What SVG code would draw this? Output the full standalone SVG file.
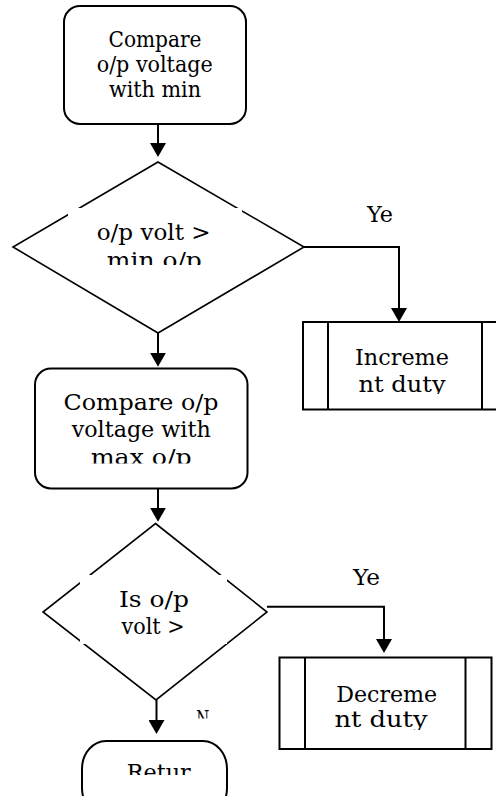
<svg xmlns="http://www.w3.org/2000/svg" width="496" height="796" viewBox="0 0 496 796">
<style>
.t{font-family:"DejaVu Serif","Liberation Serif",serif;font-size:22px;fill:#000;text-anchor:middle}
.box{fill:#fff;stroke:#000;stroke-width:2}
.dia{fill:#fff;stroke:#000;stroke-width:1.6}
.mask{fill:#fff;stroke:none}
.con{fill:none;stroke:#000;stroke-width:2}
</style>
<defs>
<marker id="arr" markerUnits="userSpaceOnUse" markerWidth="14" markerHeight="16" viewBox="0 0 14 16" refX="2" refY="8" orient="auto">
<path d="M0,0 L14,8 L0,16 z" fill="#000"/>
</marker>
<clipPath id="c1"><rect x="68" y="208" width="174" height="57"/></clipPath>
<clipPath id="c2"><rect x="36" y="370" width="210" height="93.5"/></clipPath>
<clipPath id="c3"><rect x="329" y="323" width="152" height="71"/></clipPath>
<clipPath id="c4"><rect x="80" y="575" width="147" height="69"/></clipPath>
<clipPath id="c5"><rect x="306" y="659" width="159" height="71"/></clipPath>
<clipPath id="c6"><rect x="170" y="700" width="60" height="18.5"/></clipPath>
<clipPath id="c7"><rect x="84" y="742" width="141" height="33"/></clipPath>
</defs>
<rect width="496" height="796" fill="#fff"/>

<g id="compare-min">
<rect class="box" x="64" y="6" width="182" height="118" rx="16"/>
<text class="t" x="155" y="46.7" textLength="93" lengthAdjust="spacingAndGlyphs">Compare</text>
<text class="t" x="154.7" y="71.7" textLength="116" lengthAdjust="spacingAndGlyphs">o/p voltage</text>
<text class="t" x="155" y="96.7" textLength="92" lengthAdjust="spacingAndGlyphs">with min</text>
</g>

<g id="decision-min">
<polygon class="dia" points="158,162 304,247 158,333 13,247"/>
<rect class="mask" x="68" y="208" width="174" height="57"/>
<g clip-path="url(#c1)">
<text class="t" x="153.7" y="240" textLength="114" lengthAdjust="spacingAndGlyphs">o/p volt &gt;</text>
<text class="t" x="154.3" y="268" textLength="95" lengthAdjust="spacingAndGlyphs">min o/p</text>
</g>
</g>

<g id="increment">
<rect class="box" x="303" y="322" width="204" height="87.5"/>
<line x1="328" y1="322" x2="328" y2="409.5" stroke="#000" stroke-width="2"/>
<line x1="482" y1="322" x2="482" y2="409.5" stroke="#000" stroke-width="2"/>
<g clip-path="url(#c3)">
<text class="t" x="402" y="364.5" textLength="94" lengthAdjust="spacingAndGlyphs">Increme</text>
<text class="t" x="402" y="392" textLength="87" lengthAdjust="spacingAndGlyphs">nt duty</text>
</g>
</g>

<g id="compare-max">
<rect class="box" x="35" y="368.5" width="212.5" height="120" rx="16"/>
<g clip-path="url(#c2)">
<text class="t" x="141" y="410" textLength="155" lengthAdjust="spacingAndGlyphs">Compare o/p</text>
<text class="t" x="141.2" y="437" textLength="139" lengthAdjust="spacingAndGlyphs">voltage with</text>
<text class="t" x="141.2" y="464.5" textLength="101" lengthAdjust="spacingAndGlyphs">max o/p</text>
</g>
</g>

<g id="decision-max">
<polygon class="dia" points="155.5,523.5 267,612 156,700 43,612"/>
<rect class="mask" x="80" y="575" width="147" height="69"/>
<g clip-path="url(#c4)">
<text class="t" x="154" y="606.7" textLength="70" lengthAdjust="spacingAndGlyphs">Is o/p</text>
<text class="t" x="153" y="634" textLength="63" lengthAdjust="spacingAndGlyphs">volt &gt;</text>
</g>
</g>

<g id="decrement">
<rect class="box" x="279.5" y="657.5" width="212" height="91.5"/>
<line x1="305" y1="657.5" x2="305" y2="749" stroke="#000" stroke-width="2"/>
<line x1="465.5" y1="657.5" x2="465.5" y2="749" stroke="#000" stroke-width="2"/>
<g clip-path="url(#c5)">
<text class="t" x="386.7" y="701.7" textLength="101" lengthAdjust="spacingAndGlyphs">Decreme</text>
<text class="t" x="381" y="727" textLength="93" lengthAdjust="spacingAndGlyphs">nt duty</text>
</g>
</g>

<g id="return">
<rect class="box" x="82" y="741" width="145" height="75" rx="24" ry="28"/>
<g clip-path="url(#c7)">
<text class="t" x="158.7" y="780" textLength="64" lengthAdjust="spacingAndGlyphs">Retur</text>
</g>
</g>

<g id="labels">
<text class="t" x="380" y="221.7" textLength="26" lengthAdjust="spacingAndGlyphs">Ye</text>
<text class="t" x="366.5" y="585" textLength="27" lengthAdjust="spacingAndGlyphs">Ye</text>
<g clip-path="url(#c6)"><text class="t" x="202.7" y="726" textLength="13" lengthAdjust="spacingAndGlyphs">N</text></g>
</g>

<g id="connectors">
<line class="con" x1="158" y1="124" x2="158" y2="145" marker-end="url(#arr)"/>
<line class="con" x1="158" y1="333" x2="158" y2="354.7" marker-end="url(#arr)"/>
<line class="con" x1="158" y1="488.5" x2="158" y2="509.7" marker-end="url(#arr)"/>
<line class="con" x1="156.5" y1="700" x2="156.5" y2="722" marker-end="url(#arr)"/>
<path class="con" d="M304,247 H399 V310" marker-end="url(#arr)"/>
<path class="con" d="M267,606.7 H384 V641" marker-end="url(#arr)"/>
</g>
</svg>
